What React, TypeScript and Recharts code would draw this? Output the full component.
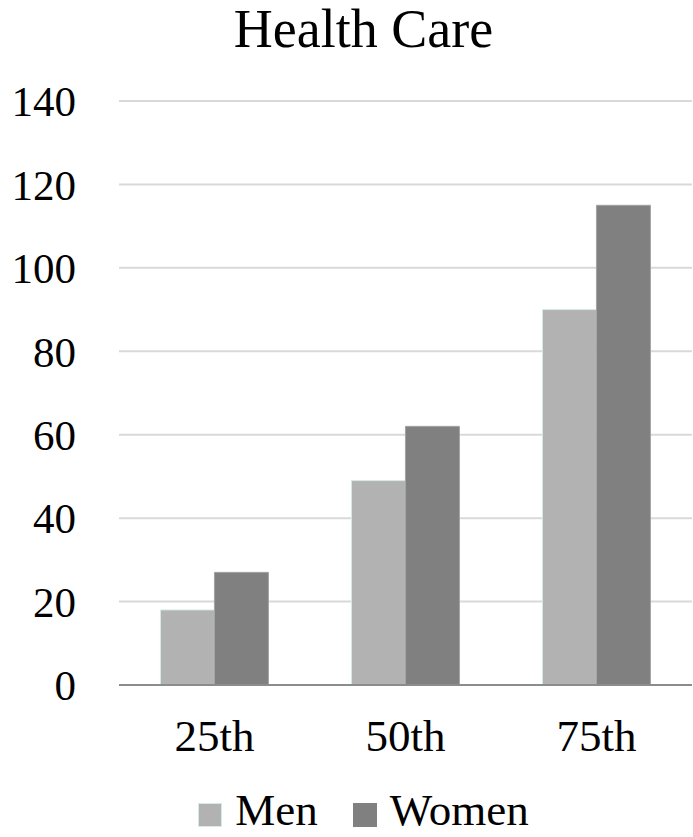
import React from 'react'
import { BarChart, Bar, XAxis, YAxis, CartesianGrid, Legend } from 'recharts'

// percentile groups and series values
const categories = ['25th', '50th', '75th']
const menValues = [18, 49, 90]
const womenValues = [27, 62, 115]
const yTicks = [0, 20, 40, 60, 80, 100, 120, 140]

const data = categories.map((c, i) => ({ name: c, Men: menValues[i], Women: womenValues[i] }))

const FONT = '"Liberation Serif", "Times New Roman", serif'

const LegendContent = (props: any) => {
  const items = props.payload || []
  return (
    <div style={{ display: 'flex', justifyContent: 'center', alignItems: 'center', height: 40, fontFamily: FONT, fontSize: 45, color: '#000', lineHeight: '40px' }}>
      {items.map((it: any, i: number) => (
        <div key={it.value} style={{ display: 'flex', alignItems: 'center', height: 40, marginLeft: i === 0 ? 0 : 35 }}>
          <span
            style={{
              display: 'block', width: 24, height: 24, background: it.color, marginTop: 10,
              border: i === 0 ? '1px solid #d5ebe3' : 'none', boxSizing: 'border-box', marginRight: 13,
            }}
          />
          <span style={{ display: 'block', height: 40, lineHeight: '40px' }}>{it.value}</span>
        </div>
      ))}
    </div>
  )
}

export default function App() {
  return (
    <div style={{ position: 'absolute', left: 0, top: 0, width: 693, height: 837, background: '#fff', overflow: 'hidden' }}>
      <div style={{ position: 'absolute', left: 17, width: 693, top: -2, textAlign: 'center', fontFamily: FONT, fontSize: 54, lineHeight: '62px', color: '#000' }}>
        Health Care
      </div>
      <BarChart
        width={693}
        height={837}
        data={data}
        margin={{ top: 101, right: 1, bottom: 0, left: 0 }}
        barCategoryGap="21.7%"
        barGap={0}
      >
        <CartesianGrid vertical={false} stroke="#d9d9d9" strokeWidth={2} />
        <XAxis
          dataKey="name"
          axisLine={{ stroke: '#8c8c8c', strokeWidth: 2 }}
          tickLine={false}
          tickSize={0}
          tickMargin={34}
          height={112}
          tick={{ fontFamily: FONT, fontSize: 45, fill: '#000' }}
        />
        <YAxis
          domain={[0, 140]}
          ticks={yTicks}
          axisLine={false}
          tickLine={false}
          tickSize={0}
          tickMargin={43}
          width={119}
          tick={{ fontFamily: FONT, fontSize: 43, fill: '#000' }}
        />
        <Legend content={LegendContent} wrapperStyle={{ position: 'absolute', top: 790, left: 17, width: 693 }} />
        <Bar dataKey="Men" fill="#b2b2b2" stroke="#d5ebe3" strokeWidth={1} isAnimationActive={false} />
        <Bar dataKey="Women" fill="#808080" stroke="#a3a3a3" strokeWidth={1} isAnimationActive={false} />
      </BarChart>
    </div>
  )
}
